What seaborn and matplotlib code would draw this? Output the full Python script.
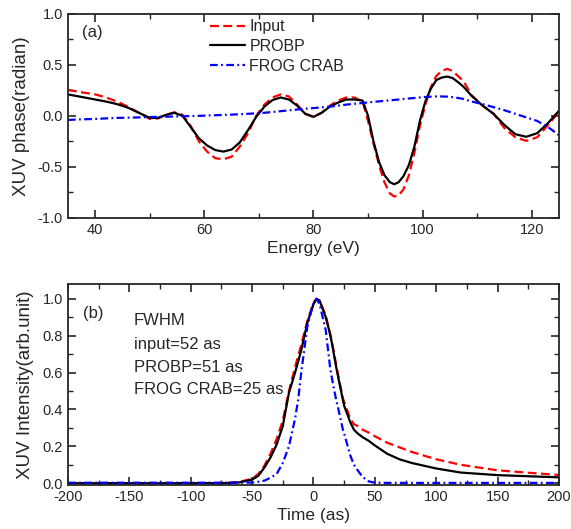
import numpy as np
import pandas as pd
import matplotlib
matplotlib.use("Agg")
import matplotlib.pyplot as plt
from matplotlib.ticker import MultipleLocator
import seaborn as sns

# ---------------- data: panel (a) ----------------
energy = [35, 37, 40, 42, 44, 46, 48, 50, 51.5, 53,
          54.5, 56, 57.5, 59, 60.5, 62, 63.5, 65, 66.5, 68,
          69.5, 71, 72.5, 74, 75.5, 77, 78.5, 80, 81.5, 83,
          84.5, 86, 87.5, 89, 90, 91, 92, 93, 94, 94.8,
          95.6, 96.5, 97.5, 98.5, 99.5, 100.5, 101.5, 102.5, 103.5, 104.5,
          105.5, 106.5, 107.5, 109, 111, 113, 115, 117, 119, 121,
          123, 125]
phase_probp = [0.21, 0.19, 0.16, 0.14, 0.115, 0.08, 0.03, -0.02, -0.02, 0.01,
               0.03, 0.0, -0.11, -0.22, -0.29, -0.335, -0.35, -0.33, -0.26, -0.14,
               -0.01, 0.09, 0.155, 0.18, 0.16, 0.10, 0.02, -0.01, 0.03, 0.09,
               0.13, 0.16, 0.16, 0.15, 0.0, -0.25, -0.45, -0.58, -0.65, -0.67,
               -0.65, -0.59, -0.48, -0.30, -0.05, 0.14, 0.265, 0.35, 0.375, 0.385,
               0.37, 0.33, 0.285, 0.195, 0.10, 0.02, -0.09, -0.18, -0.205, -0.17,
               -0.07, 0.05]
phase_input = [0.255, 0.235, 0.21, 0.18, 0.14, 0.09, 0.03, -0.03, -0.025, 0.01,
               0.035, 0.01, -0.10, -0.25, -0.35, -0.415, -0.425, -0.40, -0.30, -0.17,
               0.0, 0.11, 0.18, 0.21, 0.19, 0.11, 0.02, -0.01, 0.03, 0.10,
               0.15, 0.18, 0.18, 0.14, -0.05, -0.27, -0.48, -0.65, -0.76, -0.79,
               -0.78, -0.72, -0.58, -0.36, -0.10, 0.11, 0.28, 0.39, 0.44, 0.46,
               0.44, 0.39, 0.34, 0.20, 0.10, 0.02, -0.12, -0.21, -0.245, -0.21,
               -0.09, 0.04]
phase_frog = [-0.04, -0.035, -0.03, -0.025, -0.02, -0.018, -0.015, -0.012, -0.01, -0.008,
              -0.006, -0.004, -0.002, 0.0, 0.003, 0.006, 0.009, 0.012, 0.016, 0.02,
              0.025, 0.03, 0.038, 0.046, 0.054, 0.062, 0.07, 0.076, 0.083, 0.09,
              0.10, 0.11, 0.118, 0.126, 0.132, 0.137, 0.142, 0.147, 0.152, 0.156,
              0.16, 0.165, 0.17, 0.175, 0.18, 0.185, 0.188, 0.19, 0.19, 0.188,
              0.183, 0.175, 0.165, 0.14, 0.115, 0.085, 0.055, 0.02, -0.015, -0.05,
              -0.11, -0.19]

# ---------------- data: panel (b) ----------------
time = [-200, -100, -70, -60, -50, -45, -40, -35, -30, -25, -20, -15, -12.5, -10, -5, 0,
        2.5, 5, 10, 13.5, 15, 18.5, 20, 24, 25, 30, 33, 36, 40, 45, 50, 60, 70, 80, 100,
        120, 150, 175, 200]
int_input = [0.0, 0.0, 0.002, 0.008, 0.025, 0.05, 0.095, 0.16, 0.24, 0.34, 0.50, 0.63, 0.69,
             0.75, 0.88, 0.98, 1.0, 0.99, 0.91, 0.81, 0.77, 0.64, 0.59, 0.46, 0.44, 0.35,
             0.32, 0.31, 0.29, 0.275, 0.255, 0.22, 0.195, 0.17, 0.13, 0.10, 0.07, 0.057, 0.045]
int_probp = [0.0, 0.0, 0.001, 0.005, 0.02, 0.04, 0.085, 0.14, 0.21, 0.31, 0.49, 0.60, 0.66,
             0.72, 0.87, 0.97, 1.0, 0.99, 0.90, 0.81, 0.76, 0.63, 0.58, 0.45, 0.42, 0.33,
             0.29, 0.27, 0.25, 0.23, 0.205, 0.16, 0.13, 0.11, 0.08, 0.058, 0.044, 0.038, 0.032]
int_frog = [0.003, 0.003, 0.003, 0.003, 0.004, 0.008, 0.014, 0.03, 0.05, 0.11, 0.20, 0.35,
            0.45, 0.60, 0.85, 0.98, 1.0, 0.97, 0.83, 0.63, 0.57, 0.45, 0.41, 0.29, 0.27,
            0.15, 0.10, 0.07, 0.034, 0.01, 0.003, 0.002, 0.002, 0.002, 0.002, 0.002, 0.002,
            0.002, 0.002]

labels = ["Input", "PROBP", "FROG CRAB"]
fwhm_lines = ["FWHM", "input=52 as", "PROBP=51 as", "FROG CRAB=25 as"]

# ---------------- style ----------------
sns.set_style("ticks")
plt.rcParams["font.family"] = ["Liberation Sans", "DejaVu Sans"]
plt.rcParams["axes.unicode_minus"] = False
plt.rcParams["axes.linewidth"] = 1.3
plt.rcParams["xtick.direction"] = "in"
plt.rcParams["ytick.direction"] = "in"

colors = ["#FF0000", "#000000", "#0000FF"]
styles = [(0, (4, 2)), "-", (0, (3.5, 1.5, 0.8, 1.5))]

fig = plt.figure(figsize=(5.71, 5.29), dpi=100)
ax1 = fig.add_axes([0.119, 0.588, 0.860, 0.386])
ax2 = fig.add_axes([0.119, 0.083, 0.860, 0.380])

df_a = pd.DataFrame({"E": energy, "Input": phase_input, "PROBP": phase_probp,
                     "FROG CRAB": phase_frog})
df_b = pd.DataFrame({"t": time, "Input": int_input, "PROBP": int_probp,
                     "FROG CRAB": int_frog})

for lab, c, ls in zip(labels, colors, styles):
    sns.lineplot(data=df_a, x="E", y=lab, ax=ax1, color=c, linestyle=ls, lw=1.6,
                 label=lab, estimator=None)
    sns.lineplot(data=df_b, x="t", y=lab, ax=ax2, color=c, linestyle=ls, lw=1.6,
                 estimator=None, legend=False)

ax1.set_xlim(35, 125)
ax1.set_ylim(-1.0, 1.0)
ax1.xaxis.set_major_locator(MultipleLocator(20))
ax1.xaxis.set_minor_locator(MultipleLocator(10))
ax1.yaxis.set_major_locator(MultipleLocator(0.5))
ax1.yaxis.set_minor_locator(MultipleLocator(0.25))
ax1.yaxis.set_major_formatter(plt.FormatStrFormatter("%.1f"))
ax1.set_xlabel("Energy (eV)", fontsize=12.5, labelpad=3)
ax1.set_ylabel("XUV phase(radian)", fontsize=13.5, labelpad=6)
ax1.text(0.049, 0.91, "(a)", transform=ax1.transAxes, fontsize=12, ha="center", va="center")
leg = ax1.legend(loc="upper left", bbox_to_anchor=(0.27, 1.02), frameon=False,
                 fontsize=11.5, handlelength=2.2, handletextpad=0.25, labelspacing=0.3,
                 borderaxespad=0.2)

ax2.set_xlim(-200, 200)
ax2.set_ylim(-0.01, 1.08)
ax2.xaxis.set_major_locator(MultipleLocator(50))
ax2.xaxis.set_minor_locator(MultipleLocator(25))
ax2.yaxis.set_major_locator(MultipleLocator(0.2))
ax2.yaxis.set_minor_locator(MultipleLocator(0.1))
ax2.yaxis.set_major_formatter(plt.FormatStrFormatter("%.1f"))
ax2.set_xlabel("Time (as)", fontsize=12.5, labelpad=3)
ax2.set_ylabel("XUV Intensity(arb.unit)", fontsize=13.5, labelpad=6)
ax2.text(0.051, 0.856, "(b)", transform=ax2.transAxes, fontsize=12, ha="center", va="center")
for s, yy in zip(fwhm_lines, [0.82, 0.70, 0.587, 0.478]):
    ax2.text(0.134, yy, s, transform=ax2.transAxes, fontsize=12, ha="left", va="center")

for ax in (ax1, ax2):
    ax.tick_params(which="both", top=True, right=True, labelsize=10.5)
    ax.tick_params(which="major", length=5.5, width=1.2)
    ax.tick_params(which="minor", length=3.5, width=1.0)
    for sp in ax.spines.values():
        sp.set_visible(True)

fig.savefig("out.png", dpi=100)
